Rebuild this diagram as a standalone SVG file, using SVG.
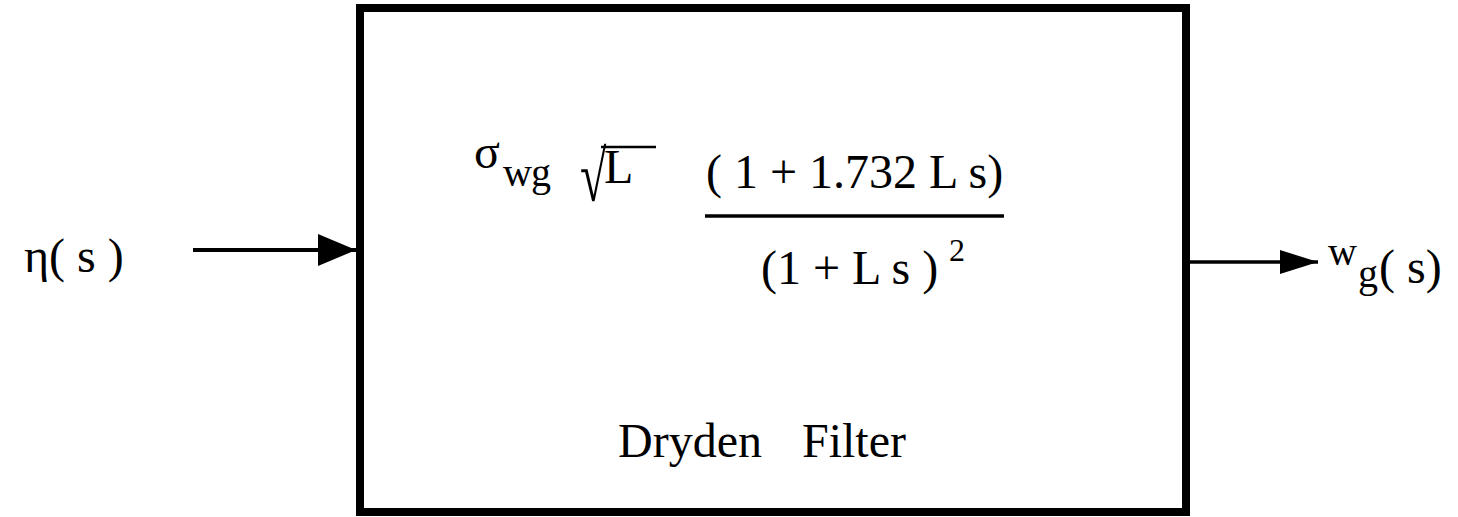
<svg xmlns="http://www.w3.org/2000/svg" width="1458" height="517" viewBox="0 0 1458 517">
<defs>
<style>
.t{font-family:"Liberation Serif","Times New Roman",serif;fill:#000;font-size:48px}
.sub{font-size:40px}
.sup{font-size:32px}
.edge{stroke:#000;fill:none}
</style>
<marker id="headIn" markerUnits="userSpaceOnUse" markerWidth="38" markerHeight="32" refX="38" refY="16" orient="auto" viewBox="0 0 38 32">
<path d="M0,0 L38,16 L0,32 z" fill="#000"/>
</marker>
<marker id="headOut" markerUnits="userSpaceOnUse" markerWidth="38" markerHeight="24" refX="38" refY="12" orient="auto" viewBox="0 0 38 24">
<path d="M0,0 L38,12 L0,24 z" fill="#000"/>
</marker>
</defs>
<rect width="1458" height="517" fill="#fff"/>

<g id="input-label">
<text class="t" x="24" y="272">η( s )</text>
</g>

<g id="dryden-filter">
<rect x="360" y="8" width="826" height="504" fill="none" stroke="#000" stroke-width="8"/>
<text class="t" x="474" y="168">σ</text>
<text class="t sub" x="503" y="186">w</text>
<text class="t sub" x="531" y="186">g</text>
<text class="t" transform="translate(580,201) scale(1,1.5)" font-size="62">√</text>
<line x1="601" y1="147" x2="656" y2="147" stroke="#000" stroke-width="2.5"/>
<text class="t" x="604" y="183">L</text>
<text class="t" x="706" y="188" xml:space="preserve">( 1 + 1.732 L s)</text>
<line x1="705" y1="216" x2="1004" y2="216" stroke="#000" stroke-width="3.5"/>
<text class="t" x="761" y="284">(1 + L s )</text>
<text class="t sup" x="949" y="261">2</text>
<text class="t" x="618" y="457">Dryden</text>
<text class="t" x="802" y="457">Filter</text>
</g>

<g id="output-label">
<text class="t sub" x="1328" y="265">w</text>
<text class="t sub" x="1358" y="287">g</text>
<text class="t" x="1379" y="283" xml:space="preserve">( s)</text>
</g>

<g id="connectors">
<line class="edge" x1="193" y1="250" x2="356" y2="250" stroke-width="4" marker-end="url(#headIn)"/>
<line class="edge" x1="1190" y1="262" x2="1318" y2="262" stroke-width="3.5" marker-end="url(#headOut)"/>
</g>
</svg>
